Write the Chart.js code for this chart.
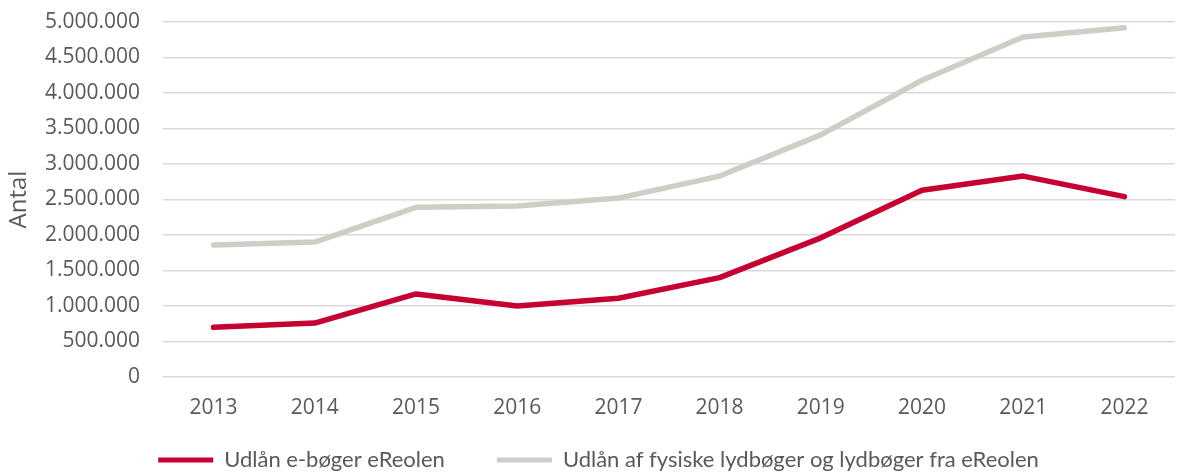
<!DOCTYPE html>
<html>
<head>
<meta charset="utf-8">
<script src="https://cdn.jsdelivr.net/npm/chart.js@4"></script>
<style>
  html, body { margin: 0; padding: 0; background: #ffffff; }
  #wrap { width: 1182px; height: 472px; }
</style>
</head>
<body>
<div id="wrap"><canvas id="chart" width="1182" height="472"></canvas></div>
<script>
// Data
const years = ['2013', '2014', '2015', '2016', '2017', '2018', '2019', '2020', '2021', '2022'];
const ebooks = [700000, 760000, 1170000, 1000000, 1110000, 1400000, 1960000, 2630000, 2830000, 2540000];
const audiobooks = [1860000, 1900000, 2390000, 2410000, 2520000, 2830000, 3410000, 4180000, 4790000, 4920000];

const textColor = '#595959';
const gridColor = '#d9d9d9';
const tickFont = { family: "'Open Sans', sans-serif", size: 21 };

// Danish thousands separator
function formatNumber(v) {
    return String(Math.round(v)).replace(/\B(?=(\d{3})+(?!\d))/g, '.');
}

// The legend needs a wide gap between items but should not take much height,
// so its reserved height is capped and it is moved down after layout.
const legendPlacement = {
    id: 'legendPlacement',
    afterInit(chart) {
        const legend = chart.legend;
        const fit = legend.fit;
        legend.fit = function () {
            fit.call(this);
            this.height = 50;
        };
    },
    afterLayout(chart) {
        const legend = chart.legend;
        const pad = legend.options.labels.padding;
        legend.top = 460 - 11 - pad;
        legend.bottom = chart.height;
        legend.height = legend.bottom - legend.top;
    }
};

const canvas = document.getElementById('chart');

new Chart(canvas, {
    type: 'line',
    data: {
        labels: years,
        datasets: [
            {
                label: 'Udlån e-bøger eReolen',
                data: ebooks,
                borderColor: '#c60030',
                backgroundColor: '#c60030',
                borderWidth: 5.5,
                borderCapStyle: 'round',
                borderJoinStyle: 'round',
                pointRadius: 0,
                tension: 0,
                fill: false
            },
            {
                label: 'Udlån af fysiske lydbøger og lydbøger fra eReolen',
                data: audiobooks,
                borderColor: '#d0cdc7',
                backgroundColor: '#d0cdc7',
                borderWidth: 5.5,
                borderCapStyle: 'round',
                borderJoinStyle: 'round',
                pointRadius: 0,
                tension: 0,
                fill: false
            }
        ]
    },
    options: {
        responsive: false,
        animation: false,
        devicePixelRatio: 1,
        layout: {
            padding: { top: 22, right: 7, left: 22, bottom: 0 }
        },
        scales: {
            x: {
                offset: true,
                grid: { display: false, drawTicks: false },
                border: { display: false },
                ticks: {
                    color: textColor,
                    font: tickFont,
                    padding: 18,
                    maxRotation: 0,
                    autoSkip: false
                },
                afterFit: scale => { scale.height = 45; }
            },
            y: {
                min: 0,
                max: 5000000,
                grid: { color: gridColor, lineWidth: 1.5, drawTicks: false },
                border: { display: false },
                ticks: {
                    stepSize: 500000,
                    color: textColor,
                    font: tickFont,
                    padding: 23,
                    callback: v => formatNumber(v)
                },
                title: {
                    display: true,
                    text: 'Antal',
                    color: textColor,
                    font: { family: "'Open Sans', sans-serif", size: 24 },
                    padding: { top: -17, bottom: 0 }
                },
                afterFit: scale => {
                    scale.width = 141;
                    scale.paddingTop = 0;
                    scale.paddingBottom = 0;
                }
            }
        },
        plugins: {
            legend: {
                position: 'bottom',
                labels: {
                    color: textColor,
                    font: { family: 'Lato, sans-serif', size: 22 },
                    boxWidth: 55,
                    boxHeight: 5,
                    padding: 52,
                    generateLabels: chart => chart.data.datasets.map((ds, i) => ({
                        text: ds.label,
                        fillStyle: ds.borderColor,
                        strokeStyle: ds.borderColor,
                        fontColor: textColor,
                        lineWidth: 0,
                        datasetIndex: i
                    }))
                }
            },
            tooltip: { enabled: false }
        }
    },
    plugins: [legendPlacement]
});
</script>
</body>
</html>
